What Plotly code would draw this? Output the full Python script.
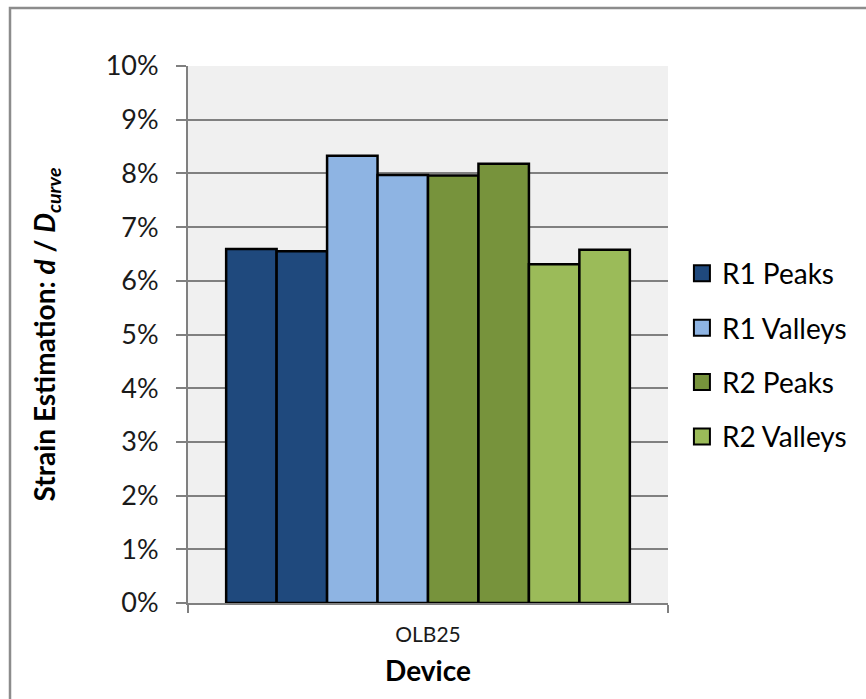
import plotly.graph_objects as go

# Strain estimates for device OLB25, two measurements per series
device = ["OLB25"]
series_names = ["R1 Peaks", "R1 Valleys", "R2 Peaks", "R2 Valleys"]
r1_peaks = [0.0659, 0.0655]
r1_valleys = [0.0833, 0.0797]
r2_peaks = [0.0796, 0.0818]
r2_valleys = [0.0631, 0.0658]
y_ticks = [i / 100 for i in range(0, 11)]

series_values = [r1_peaks, r1_valleys, r2_peaks, r2_valleys]
colors = ["#1F497D", "#8EB4E3", "#77933C", "#9BBB59"]

FONT = "Lato, Calibri, Carlito, sans-serif"
GRID = "#808080"

fig = go.Figure()

# one bar per measurement, grouped side by side inside the single category
for name, vals, col in zip(series_names, series_values, colors):
    for v in vals:
        fig.add_trace(go.Bar(
            x=device, y=[v], name=name, legendgroup=name, showlegend=False,
            marker=dict(color=col, line=dict(color="#000000", width=2.5)),
            hoverinfo="y",
        ))

# legend entries with larger square swatches
for name, col in zip(series_names, colors):
    fig.add_trace(go.Scatter(
        x=[None], y=[None], mode="markers", name=name, legendgroup=name,
        marker=dict(symbol="square", size=16, color=col,
                    line=dict(color="#000000", width=2)),
        showlegend=True,
    ))

fig.update_layout(
    width=866, height=699,
    margin=dict(l=188, r=198, t=66, b=96),
    paper_bgcolor="#FFFFFF",
    plot_bgcolor="#F0F0F0",
    barmode="group",
    bargap=0.159,
    bargroupgap=0,
    font=dict(family=FONT, color="#000000"),
    legend=dict(
        x=1.029, y=0.66, xanchor="left", yanchor="top",
        font=dict(family=FONT, size=28, color="#000000"),
        itemsizing="trace", tracegroupgap=15,
        bgcolor="rgba(0,0,0,0)",
    ),
    showlegend=True,
)

fig.update_yaxes(
    range=[0, 0.1], tickvals=y_ticks, tickformat=".0%",
    showgrid=True, gridcolor=GRID, gridwidth=2,
    showline=True, linecolor=GRID, linewidth=2,
    ticks="outside", ticklen=10, tickwidth=2, tickcolor=GRID,
    ticklabelstandoff=12,
    zeroline=False,
    tickfont=dict(family=FONT, size=27, color="#1a1a1a"),
    title=dict(
        text="Strain Estimation: <i>d</i> / <i>D<sub>curve</sub></i>",
        font=dict(family=FONT, size=28, color="#000000", weight="bold"),
        standoff=42,
    ),
)

fig.update_xaxes(
    type="category",
    showgrid=False,
    showline=True, linecolor=GRID, linewidth=2,
    ticks="outside", tickson="boundaries", ticklen=8, tickwidth=2, tickcolor=GRID,
    ticklabelstandoff=12,
    tickfont=dict(family=FONT, size=21, color="#1a1a1a"),
    title=dict(
        text="Device",
        font=dict(family=FONT, size=28, color="#000000", weight="bold"),
        standoff=16,
    ),
)

# chart frame
fig.add_shape(
    type="rect", xref="paper", yref="paper",
    x0=(10 - 188) / 480, x1=(880 - 188) / 480,
    y0=(603 - 715) / 537, y1=(603 - 8) / 537,
    line=dict(color="#8C8C8C", width=2.5), fillcolor="rgba(0,0,0,0)",
    layer="below",
)

fig.write_html("out.html")
